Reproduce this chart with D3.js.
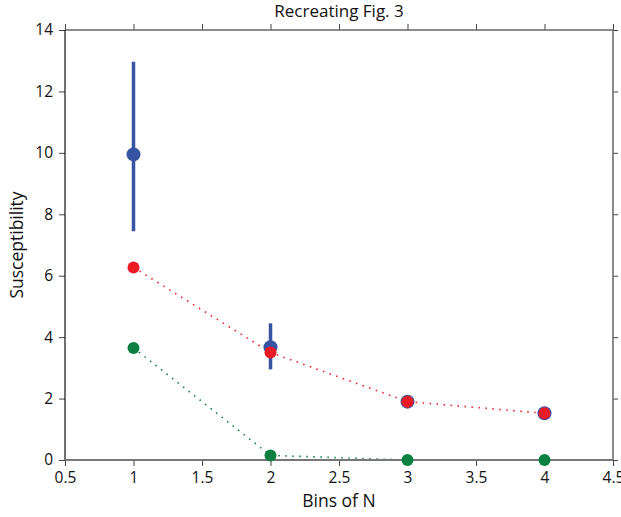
<!DOCTYPE html>
<html>
<head>
  <meta charset="utf-8">
  <title>Recreating Fig. 3</title>
  <style>
    body { margin: 0; background: #fff; }
    text { font-family: "Open Sans", "Noto Sans", sans-serif; fill: #111; }
    .tick text { font-size: 15.5px; }
  </style>
</head>
<body>
  <svg id="canvas"></svg>
  <script src="https://d3js.org/d3.v7.min.js"></script>
  <script>
    const bins = [1, 2, 3, 4];
    const blueVals = [9.95, 3.67, 1.9, 1.52];
    const blueLo = [7.45, 2.95, 1.85, 1.47];
    const blueHi = [12.97, 4.45, 1.95, 1.57];
    const redVals = [6.27, 3.5, 1.9, 1.52];
    const greenVals = [3.65, 0.15, 0.0, 0.0];
    const xTicks = [0.5, 1, 1.5, 2, 2.5, 3, 3.5, 4, 4.5];
    const yTicks = [0, 2, 4, 6, 8, 10, 12, 14];

    const W = 621, H = 517;
    const m = { left: 65, right: 8, top: 30, bottom: 57 };

    const svg = d3.select("#canvas").attr("width", W).attr("height", H);

    const x = d3.scaleLinear().domain([0.5, 4.5]).range([m.left, W - m.right]);
    const y = d3.scaleLinear().domain([0, 14]).range([H - m.bottom, m.top]);

    // ticks (outward on all four sides), domains drawn separately
    const tickCol = "#444";
    svg.append("g").attr("transform", "translate(0," + y(0) + ")")
      .call(d3.axisBottom(x).tickValues(xTicks).tickSize(6).tickPadding(6).tickFormat(d3.format("")))
      .call(g => g.selectAll(".tick line").attr("stroke", tickCol));
    svg.append("g").attr("transform", "translate(0," + y(14) + ")")
      .call(d3.axisTop(x).tickValues(xTicks).tickSize(6).tickFormat(""))
      .call(g => g.selectAll(".tick line").attr("stroke", tickCol));
    svg.append("g").attr("transform", "translate(" + x(0.5) + ",0)")
      .call(d3.axisLeft(y).tickValues(yTicks).tickSize(6).tickPadding(6))
      .call(g => g.selectAll(".tick line").attr("stroke", tickCol));
    svg.append("g").attr("transform", "translate(" + x(4.5) + ",0)")
      .call(d3.axisRight(y).tickValues(yTicks).tickSize(5).tickFormat(""))
      .call(g => g.selectAll(".tick line").attr("stroke", tickCol));
    svg.selectAll(".domain").remove();

    // frame
    svg.append("line").attr("x1", x(0.5)).attr("x2", x(4.5)).attr("y1", y(14)).attr("y2", y(14))
      .attr("stroke", "#666").attr("stroke-width", 1.5);
    svg.append("line").attr("x1", x(4.5)).attr("x2", x(4.5)).attr("y1", y(14)).attr("y2", y(0))
      .attr("stroke", "#666").attr("stroke-width", 1.5);
    svg.append("line").attr("x1", x(0.5)).attr("x2", x(0.5)).attr("y1", y(14)).attr("y2", y(0))
      .attr("stroke", "#111").attr("stroke-width", 1.2);

    // dotted lines
    const line = vals => d3.line().x((_, i) => x(bins[i])).y((d) => y(d))(vals);
    svg.append("path").attr("d", line(redVals)).attr("fill", "none")
      .attr("stroke", "#ed1c24").attr("stroke-width", 1.6).attr("stroke-dasharray", "1.5,5.5");
    svg.append("path").attr("d", line(greenVals)).attr("fill", "none")
      .attr("stroke", "#0b8040").attr("stroke-width", 1.6).attr("stroke-dasharray", "1.5,5.5");

    svg.append("line").attr("x1", x(0.5)).attr("x2", x(4.5)).attr("y1", y(0)).attr("y2", y(0))
      .attr("stroke", "#777").attr("stroke-width", 2.2);

    // error bars
    svg.selectAll(".err").data(bins).enter().append("line")
      .attr("x1", d => x(d)).attr("x2", d => x(d))
      .attr("y1", (_, i) => y(blueLo[i])).attr("y2", (_, i) => y(blueHi[i]))
      .attr("stroke", "#3953a4").attr("stroke-width", 3.5);

    svg.selectAll(".blue").data(blueVals).enter().append("circle")
      .attr("cx", (_, i) => x(bins[i])).attr("cy", d => y(d)).attr("r", 7)
      .attr("fill", "#3953a4");
    svg.selectAll(".red").data(redVals).enter().append("circle")
      .attr("cx", (_, i) => x(bins[i])).attr("cy", d => y(d)).attr("r", 6)
      .attr("fill", "#ed1c24");
    svg.selectAll(".green").data(greenVals).enter().append("circle")
      .attr("cx", (_, i) => x(bins[i])).attr("cy", d => y(d)).attr("r", 6)
      .attr("fill", "#0b8040");

    // labels
    svg.append("text").attr("x", (m.left + W - m.right) / 2).attr("y", 17)
      .attr("text-anchor", "middle").style("font-size", "17px").text("Recreating Fig. 3");
    svg.append("text").attr("x", (m.left + W - m.right) / 2).attr("y", 507)
      .attr("text-anchor", "middle").style("font-size", "17.5px").text("Bins of N");
    svg.append("text").attr("transform", "translate(23," + y(7) + ")rotate(-90)")
      .attr("text-anchor", "middle").style("font-size", "17.5px").text("Susceptibility");
  </script>
</body>
</html>
